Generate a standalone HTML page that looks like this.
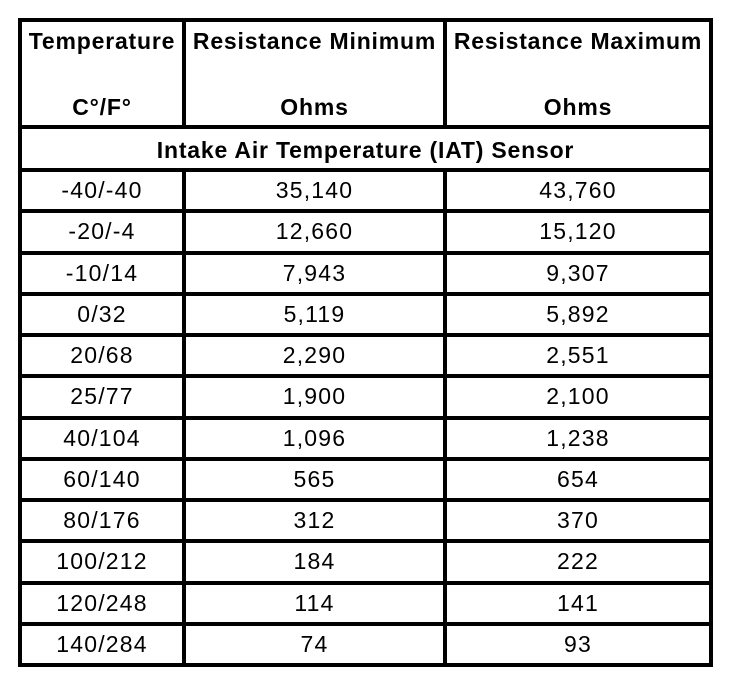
<!DOCTYPE html>
<html><head><meta charset="utf-8"><style>
body{margin:0;background:#fff;width:752px;height:678px;position:relative;overflow:hidden;font-family:"Liberation Sans",Arial,sans-serif;color:#000}
.l{position:absolute;background:#000}
.t{position:absolute;text-align:center;white-space:nowrap;font-size:23px;letter-spacing:1.2px;line-height:26px}
.b{font-weight:bold;letter-spacing:0.8px}
</style></head><body>
<div class="l" style="left:18px;top:18px;width:695px;height:4px"></div>
<div class="l" style="left:18px;top:125px;width:695px;height:4px"></div>
<div class="l" style="left:18px;top:18px;width:4px;height:649px"></div>
<div class="l" style="left:709px;top:18px;width:4px;height:649px"></div>
<div class="l" style="left:182px;top:18px;width:4px;height:110px"></div>
<div class="l" style="left:443px;top:18px;width:4px;height:110px"></div>
<div class="l" style="left:182px;top:168px;width:4px;height:499px"></div>
<div class="l" style="left:443px;top:168px;width:4px;height:499px"></div>
<div id="rows"></div>
<div class="t b" style="left:22px;width:160px;top:28px">Temperature</div>
<div class="t b" style="left:186px;width:257px;top:28px">Resistance Minimum</div>
<div class="t b" style="left:447px;width:262px;top:28px">Resistance Maximum</div>
<div class="t b" style="left:22px;width:160px;top:94px">C°/F°</div>
<div class="t b" style="left:186px;width:257px;top:94px">Ohms</div>
<div class="t b" style="left:447px;width:262px;top:94px">Ohms</div>
<div class="t b" style="left:22px;width:687px;top:137px">Intake Air Temperature (IAT) Sensor</div>
<script>
var d=[["-40/-40","35,140","43,760"],["-20/-4","12,660","15,120"],["-10/14","7,943","9,307"],["0/32","5,119","5,892"],["20/68","2,290","2,551"],["25/77","1,900","2,100"],["40/104","1,096","1,238"],["60/140","565","654"],["80/176","312","370"],["100/212","184","222"],["120/248","114","141"],["140/284","74","93"]];
var h="";
for(var i=0;i<=12;i++){var y=Math.round(168+41.25*i);h+='<div class="l" style="left:18px;top:'+y+'px;width:695px;height:4px"></div>';}
for(var i=0;i<12;i++){var y=Math.round(168+41.25*i)+9;
h+='<div class="t" style="left:22px;width:160px;top:'+y+'px">'+d[i][0]+'</div>';
h+='<div class="t" style="left:186px;width:257px;top:'+y+'px">'+d[i][1]+'</div>';
h+='<div class="t" style="left:447px;width:262px;top:'+y+'px">'+d[i][2]+'</div>';}
document.getElementById("rows").innerHTML=h;
</script>
</body></html>
